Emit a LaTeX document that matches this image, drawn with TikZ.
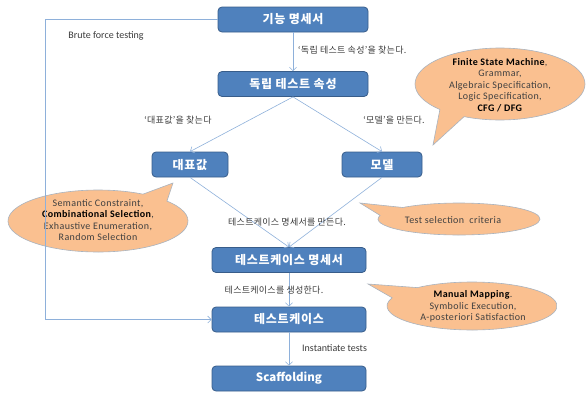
\documentclass[tikz,border=0pt]{standalone}
\usepackage{fontspec}
\setmainfont{Carlito}
\newfontfamily\calfont[LetterSpace=4]{Carlito}
\newfontfamily\kr{Noto Sans CJK KR}
\newfontfamily\krbox[LetterSpace=6]{Noto Sans CJK KR}
\newfontfamily\krl[LetterSpace=3]{Noto Sans CJK KR}
\usetikzlibrary{arrows.meta}
\definecolor{boxfill}{HTML}{4F81BD}
\definecolor{boxline}{HTML}{385D8A}
\definecolor{arrowc}{HTML}{8EB0DA}
\definecolor{labc}{HTML}{3A3A3A}
\definecolor{calfill}{HTML}{FAC090}
\definecolor{calline}{HTML}{A9B3BF}
\definecolor{caltext}{HTML}{404040}
\begin{document}
\begin{tikzpicture}[x=1pt,y=-1pt,
  box/.style={draw=boxline, fill=boxfill, rounded corners=4pt, line width=0.8pt,
    text=white, font=\krbox\bfseries\fontsize{12}{14}\selectfont,
    minimum height=25pt, inner sep=0pt},
  latinbox/.style={box, font=\kr\bfseries\fontsize{11.5}{13}\selectfont},
  conn/.style={draw=arrowc, line width=0.6pt, -{Straight Barb[length=3.5pt,width=7pt]}},
  lbl/.style={font=\krl\fontsize{9}{11}\selectfont, text=labc, inner sep=0pt},
  elbl/.style={font=\fontsize{10}{12}\selectfont, text=labc, inner sep=0pt},
  callout/.style={fill=calfill, draw=calline, line width=0.6pt},
  ctext/.style={font=\calfont\fontsize{10}{11.5}\selectfont, text=caltext, align=center, inner sep=0pt}
]
\useasboundingbox (0,0) rectangle (587,397);

% callouts
\draw[callout] (500,84) ++(135:85 and 36) arc[start angle=135, end angle=475, x radius=85, y radius=36] -- (433,145) -- cycle;
\draw[callout] (98,221) ++(320:90 and 31) arc[start angle=320, end angle=660, x radius=90, y radius=31] -- (173,183) -- cycle;
\draw[callout] (459,219) ++(226:81 and 16) arc[start angle=226, end angle=553, x radius=81, y radius=16] -- (360,203) -- cycle;
\draw[callout] (472,306) ++(230:85 and 24) arc[start angle=230, end angle=560, x radius=85, y radius=24] -- (368,284) -- cycle;

\node[ctext] (c1) at (500,85) {\textcolor{black}{\textbf{Finite State Machine}},\\Grammar,\\Algebraic Specification,\\Logic Specification,\\\textcolor{black}{\textbf{CFG / DFG}}};
\node[ctext] (c2) at (98,220) {Semantic Constraint,\\\textcolor{black}{\textbf{Combinational Selection}},\\Exhaustive Enumeration,\\Random Selection};
\node[ctext] (c3) at (453,220) {Test selection\ \ criteria};
\node[ctext] (c4) at (473,306.5) {\textcolor{black}{\textbf{Manual Mapping}}.\\Symbolic Execution,\\A-posteriori Satisfaction};

% boxes
\node[box, minimum width=150pt] (spec) at (293,19.5) {기능 명세서};
\node[box, minimum width=150pt] (prop) at (293,84) {독립 테스트 속성};
\node[box, minimum width=76pt] (rep) at (190,164.5) {대표값};
\node[box, minimum width=80pt] (model) at (382,164.5) {모델};
\node[box, minimum width=154pt] (tcs) at (289,260) {테스트케이스 명세서};
\node[box, minimum width=154pt] (tc) at (289,319.5) {테스트케이스};
\node[latinbox, minimum width=154pt] (scaf) at (289,378.5) {Scaffolding};

% connectors
\coordinate (bfx) at (45,0);
\draw[conn] (spec) -- (prop);
\draw[conn] (prop.south) -- (rep.north);
\draw[conn] (prop.south) -- (model.north);
\draw[conn] (rep.south) -- (tcs.north);
\draw[conn] (model.south) -- (tcs.north);
\draw[conn] (tcs) -- (tc);
\draw[conn] (tc) -- (scaf);
\draw[conn] (spec.west) -| (bfx |- tc.west) -- (tc.west);

% labels
\node[elbl] (bft) at (106,36) {Brute force testing};
\node[lbl, anchor=west] (l1) at (298,50) {‘독립 테스트 속성’을 찾는다.};
\node[lbl] (l2) at (178,120) {‘대표값’을 찾는다};
\node[lbl] (l3) at (394,120) {‘모델’을 만든다.};
\node[lbl] (l4) at (287,222) {테스트케이스 명세서를 만든다.};
\node[lbl] (l5) at (274,290) {테스트케이스를 생성한다.};
\node[elbl, anchor=west] (l6) at (302,348) {Instantiate tests};
\end{tikzpicture}
\end{document}
